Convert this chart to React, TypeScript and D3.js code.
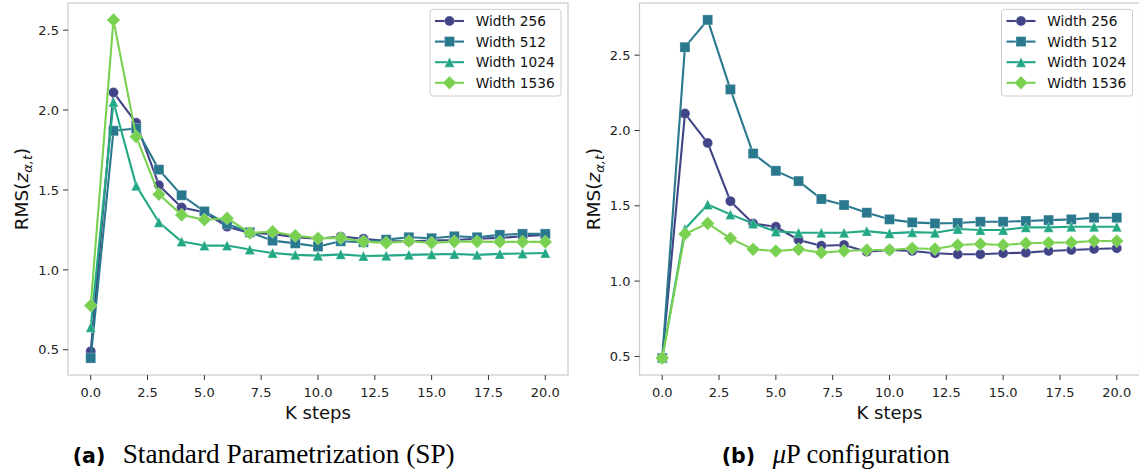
import React from "react";
import * as d3 from "d3";

const steps = [0, 1, 2, 3, 4, 5, 6, 7, 8, 9, 10, 11, 12, 13, 14, 15, 16, 17, 18, 19, 20];
const xTicks = [0, 2.5, 5, 7.5, 10, 12.5, 15, 17.5, 20];
const yTicks = [0.5, 1.0, 1.5, 2.0, 2.5];
const seriesLabels = ["Width 256", "Width 512", "Width 1024", "Width 1536"];
const seriesColors = ["#414487", "#2a788e", "#22a884", "#7ad151"];
const seriesMarkers = ["circle", "square", "triangle", "diamond"];

const spW256 = [0.49, 2.11, 1.92, 1.53, 1.39, 1.36, 1.27, 1.23, 1.225, 1.205, 1.195, 1.208, 1.195, 1.18, 1.178, 1.183, 1.187, 1.195, 1.2, 1.21, 1.218];
const spW512 = [0.448, 1.87, 1.885, 1.627, 1.467, 1.366, 1.287, 1.235, 1.183, 1.166, 1.146, 1.179, 1.173, 1.189, 1.204, 1.198, 1.21, 1.204, 1.219, 1.225, 1.225];
const spW1024 = [0.641, 2.05, 1.527, 1.298, 1.177, 1.152, 1.152, 1.127, 1.106, 1.094, 1.089, 1.097, 1.087, 1.089, 1.094, 1.097, 1.099, 1.094, 1.1, 1.102, 1.106];
const spW1536 = [0.777, 2.564, 1.833, 1.473, 1.344, 1.314, 1.323, 1.231, 1.239, 1.214, 1.198, 1.2, 1.177, 1.169, 1.179, 1.169, 1.177, 1.177, 1.175, 1.175, 1.175];

const muW256 = [0.489, 2.112, 1.917, 1.531, 1.383, 1.361, 1.273, 1.235, 1.24, 1.195, 1.207, 1.2, 1.185, 1.178, 1.178, 1.185, 1.189, 1.2, 1.207, 1.213, 1.218];
const muW512 = [0.489, 2.553, 2.734, 2.273, 1.847, 1.732, 1.664, 1.545, 1.505, 1.454, 1.41, 1.39, 1.383, 1.386, 1.394, 1.394, 1.399, 1.405, 1.41, 1.421, 1.421];
const muW1024 = [0.489, 1.346, 1.509, 1.443, 1.383, 1.33, 1.321, 1.321, 1.321, 1.332, 1.317, 1.325, 1.321, 1.346, 1.339, 1.339, 1.357, 1.357, 1.361, 1.361, 1.361];
const muW1536 = [0.489, 1.313, 1.383, 1.284, 1.211, 1.2, 1.211, 1.189, 1.2, 1.207, 1.207, 1.218, 1.213, 1.24, 1.246, 1.24, 1.251, 1.255, 1.257, 1.266, 1.266];

const FONT = "DejaVu Sans";

function Marker({ kind, cx, cy, color }: { kind: string; cx: number; cy: number; color: string }) {
  const ms = 10;
  const h = ms / 2;
  const common = { fill: color, stroke: "#ffffff", strokeOpacity: 0.35, strokeWidth: 0.8 } as any;
  if (kind === "circle") return <circle cx={cx} cy={cy} r={h} {...common} />;
  if (kind === "square") return <rect x={cx - h} y={cy - h} width={ms} height={ms} {...common} />;
  if (kind === "triangle")
    return <path d={`M${cx},${cy - h}L${cx + h},${cy + h}L${cx - h},${cy + h}Z`} {...common} />;
  const d = h * 1.36;
  return <path d={`M${cx},${cy - d}L${cx + d},${cy}L${cx},${cy + d}L${cx - d},${cy}Z`} {...common} />;
}

function Panel({ left, series }: { left: number; series: number[][] }) {
  const top = 3;
  const bottom = 375;
  const right = left + 500;
  const all = series.flat();
  const [mn, mx] = d3.extent(all) as [number, number];
  const pad = (mx - mn) * 0.05;
  const x = d3.scaleLinear().domain([-1, 21]).range([left, right]);
  const y = d3.scaleLinear().domain([mn - pad, mx + pad]).range([bottom, top]);
  const line = d3
    .line<number>()
    .x((_, i) => x(steps[i]))
    .y((v) => y(v));
  const legW = 131;
  const legX = right - 7 - legW;
  const legY = 9.3;
  const midY = (top + bottom) / 2;
  const midX = (left + right) / 2;
  return (
    <g>
      <rect x={left} y={top} width={right - left} height={bottom - top} fill="#ffffff" stroke="#cccccc" strokeWidth={1.25} />
      {xTicks.map((t) => (
        <g key={"x" + t}>
          <line x1={x(t)} x2={x(t)} y1={bottom} y2={bottom + 5} stroke="#333333" strokeWidth={1} />
          <text x={x(t)} y={397} textAnchor="middle" fontFamily={FONT} fontSize={13} fill="#222">
            {t.toFixed(1)}
          </text>
        </g>
      ))}
      {yTicks.map((t) => (
        <g key={"y" + t}>
          <line x1={left - 5} x2={left} y1={y(t)} y2={y(t)} stroke="#333333" strokeWidth={1} />
          <text x={left - 9} y={y(t) + 4.7} textAnchor="end" fontFamily={FONT} fontSize={13} fill="#222">
            {t.toFixed(1)}
          </text>
        </g>
      ))}
      <text x={midX} y={419} textAnchor="middle" fontFamily={FONT} fontSize={18} fill="#111">
        K steps
      </text>
      <text transform={`translate(${left - 40},${midY}) rotate(-90)`} textAnchor="middle" fontFamily={FONT} fontSize={18.5} fill="#111">
        <tspan>RMS(</tspan>
        <tspan fontStyle="italic">z</tspan>
        <tspan fontStyle="italic" fontSize={13} dy={4}>α,t</tspan>
        <tspan dy={-4}>)</tspan>
      </text>
      {series.map((vals, si) => (
        <g key={"s" + si}>
          <path d={line(vals) || ""} fill="none" stroke={seriesColors[si]} strokeWidth={2.1} strokeLinejoin="round" />
          {vals.map((v, i) => (
            <Marker key={i} kind={seriesMarkers[si]} cx={x(steps[i])} cy={y(v)} color={seriesColors[si]} />
          ))}
        </g>
      ))}
      <rect x={legX} y={legY} width={legW} height={86.7} rx={3} fill="#ffffff" fillOpacity={0.8} stroke="#cccccc" strokeWidth={1} />
      {seriesLabels.map((lab, si) => {
        const ey = legY + 11.7 + si * 20.6;
        return (
          <g key={"l" + si}>
            <line x1={legX + 5} x2={legX + 34} y1={ey} y2={ey} stroke={seriesColors[si]} strokeWidth={2.1} />
            <Marker kind={seriesMarkers[si]} cx={legX + 19.5} cy={ey} color={seriesColors[si]} />
            <text x={legX + 45.7} y={ey + 5} fontFamily={FONT} fontSize={13.7} fill="#111">
              {lab}
            </text>
          </g>
        );
      })}
    </g>
  );
}

export default function App() {
  return (
    <svg width={1139} height={474} style={{ position: "absolute", left: 0, top: 0, background: "#ffffff" }}>
      <rect x={0} y={0} width={1139} height={474} fill="#ffffff" />
      <Panel left={68} series={[spW256, spW512, spW1024, spW1536]} />
      <Panel left={639.5} series={[muW256, muW512, muW1024, muW1536]} />
      <text x={72.7} y={463} fontFamily={FONT} fontWeight="bold" fontSize={20.5} fill="#000">
        (a)
      </text>
      <text x={122.7} y={463} fontFamily="Liberation Serif" fontSize={26.5} fill="#000" textLength={332} lengthAdjust="spacingAndGlyphs">
        Standard Parametrization (SP)
      </text>
      <text x={721.7} y={463} fontFamily={FONT} fontWeight="bold" fontSize={20.5} fill="#000">
        (b)
      </text>
      <text x={772.7} y={463} fontFamily="Liberation Serif" fontSize={26.5} fill="#000" textLength={177} lengthAdjust="spacingAndGlyphs">
        <tspan fontStyle="italic">μ</tspan>P configuration
      </text>
    </svg>
  );
}
